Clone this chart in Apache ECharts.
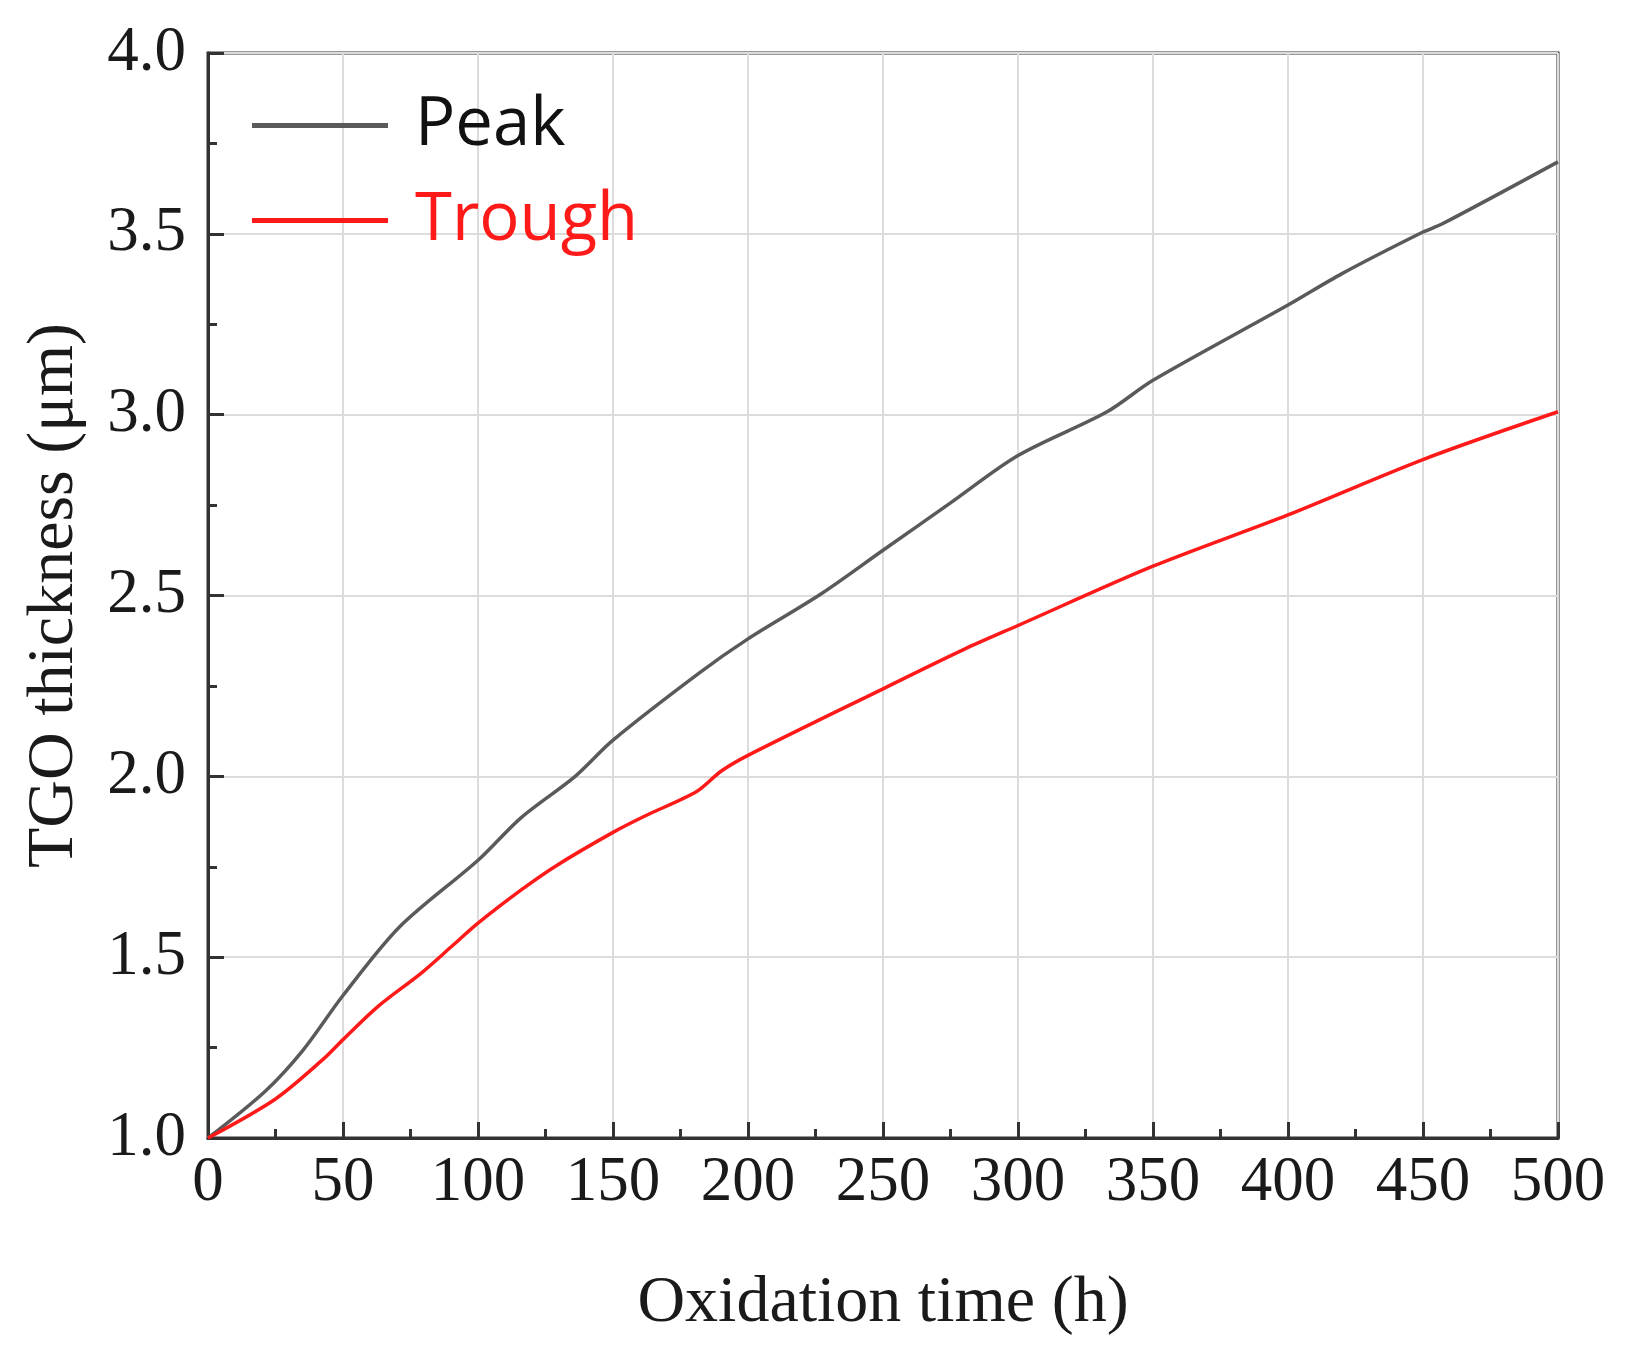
<!DOCTYPE html>
<html>
<head>
<meta charset="utf-8">
<script src="https://cdn.jsdelivr.net/npm/echarts@6/dist/echarts.min.js"></script>
<style>html,body{margin:0;padding:0;background:#fff}#c{width:1628px;height:1366px}</style>
</head>
<body>
<div id="c"></div>
<script>
const xTicks = [0, 50, 100, 150, 200, 250, 300, 350, 400, 450, 500];
const yTicks = [1.0, 1.5, 2.0, 2.5, 3.0, 3.5, 4.0];
const peakHours   = [0, 21, 35, 50, 71, 100, 116, 136, 150, 182, 200, 227, 250, 275, 300, 333, 350, 400, 420, 450, 457, 500];
const peakValues  = [1.0, 1.128, 1.241, 1.394, 1.584, 1.768, 1.886, 2.0, 2.1, 2.286, 2.38, 2.504, 2.625, 2.756, 2.887, 3.008, 3.095, 3.303, 3.39, 3.505, 3.527, 3.699];
const troughHours  = [0, 25, 43, 50, 63, 79, 90, 100, 116, 129, 150, 162, 181, 190, 200, 250, 280, 300, 350, 400, 450, 500];
const troughValues = [1.0, 1.108, 1.22, 1.272, 1.364, 1.456, 1.528, 1.594, 1.686, 1.753, 1.845, 1.891, 1.958, 2.014, 2.058, 2.242, 2.351, 2.417, 2.581, 2.723, 2.876, 3.008];

const peakData = peakHours.map((h, i) => [h, peakValues[i]]);
const troughData = troughHours.map((h, i) => [h, troughValues[i]]);

const serif = "'Liberation Serif', 'Times New Roman', serif";
const chart = echarts.init(document.getElementById('c'));
chart.setOption({
  backgroundColor: '#fff',
  animation: false,
  grid: { left: 208, right: 70, top: 53, bottom: 228, show: true, borderColor: '#333', borderWidth: 3, backgroundColor: 'transparent' },
  legend: {
    orient: 'vertical', left: 247, top: 84,
    itemWidth: 136, itemHeight: 5, itemGap: 22,
    icon: 'rect',
    data: [
      { name: 'Peak', textStyle: { color: '#111' } },
      { name: 'Trough', textStyle: { color: '#ff1a1a' } }
    ],
    textStyle: { fontFamily: "'Open Sans', sans-serif", fontSize: 67, lineHeight: 73, padding: [0, 0, 0, 22] }
  },
  xAxis: {
    type: 'value', min: xTicks[0], max: xTicks[xTicks.length - 1], interval: 50,
    name: 'Oxidation time (h)', nameLocation: 'middle', nameGap: 133,
    nameTextStyle: { fontFamily: serif, fontSize: 66, color: '#1a1a1a' },
    axisLine: { show: true, lineStyle: { color: '#333', width: 3 } },
    axisTick: { show: true, inside: true, length: 16, lineStyle: { color: '#333', width: 3 } },
    minorTick: { show: true, splitNumber: 2, length: 9, lineStyle: { color: '#333', width: 3 } },
    axisLabel: { fontFamily: serif, fontSize: 63, color: '#1a1a1a', margin: 14 },
    splitLine: { show: true, lineStyle: { color: '#dcdcdc', width: 2 } }
  },
  yAxis: {
    type: 'value', min: yTicks[0], max: yTicks[yTicks.length - 1], interval: 0.5,
    name: 'TGO thickness (μm)', nameLocation: 'middle', nameGap: 120, nameRotate: 90,
    nameTextStyle: { fontFamily: serif, fontSize: 66, color: '#1a1a1a' },
    axisLine: { show: true, lineStyle: { color: '#333', width: 3 } },
    axisTick: { show: true, inside: true, length: 16, lineStyle: { color: '#333', width: 3 } },
    minorTick: { show: true, splitNumber: 2, length: 9, lineStyle: { color: '#333', width: 3 } },
    axisLabel: { fontFamily: serif, fontSize: 63, color: '#1a1a1a', margin: 22, formatter: v => v.toFixed(1) },
    splitLine: { show: true, lineStyle: { color: '#dcdcdc', width: 2 } }
  },
  series: [
    { name: 'Peak', type: 'line', data: peakData, symbol: 'none', smooth: 0.3,
      lineStyle: { color: '#5a5a5a', width: 3.5 }, itemStyle: { color: '#5a5a5a' } },
    { name: 'Trough', type: 'line', data: troughData, symbol: 'none', smooth: 0.3,
      lineStyle: { color: '#ff1a1a', width: 3.5 }, itemStyle: { color: '#ff1a1a' } }
  ]
});
</script>
</body>
</html>
